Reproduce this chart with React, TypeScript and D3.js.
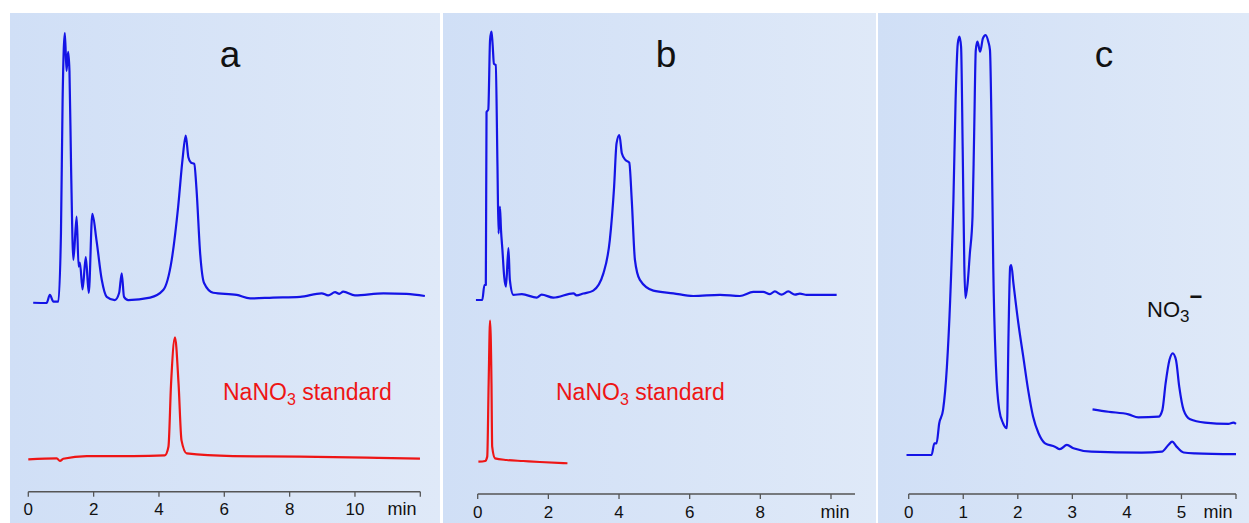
import React from "react";
import * as d3 from "d3";

// panel a, sample (blue) and NaNO3 standard (red)
const aBlueT = [0.15, 0.56, 0.66, 0.77, 0.92, 1.0, 1.05, 1.12, 1.17, 1.22, 1.26, 1.31, 1.38, 1.48, 1.54, 1.58, 1.66, 1.76, 1.85, 1.96, 2.09, 2.25, 2.4, 2.65, 2.78, 2.86, 2.93, 3.06, 3.73, 4.13, 4.39, 4.59, 4.72, 4.82, 4.9, 4.98, 5.08, 5.15, 5.26, 5.38, 5.66, 6.38, 6.79, 7.49, 8.32, 8.98, 9.18, 9.39, 9.52, 9.64, 10.0, 10.87, 11.58, 12.14];
const aBlueV = [0.1, 0, 3, 0.5, 0.5, 26, 75, 100, 86, 93, 86, 50, 16, 32, 13.5, 15, 5, 17, 3.7, 33, 23, 8.5, 2.3, 1.1, 3.7, 11, 2.3, 1.1, 2, 4.8, 16, 36, 53, 62, 54, 52, 51.5, 42, 18.5, 7.4, 3.8, 3, 1.7, 2, 2.3, 3.6, 2.8, 4, 3.4, 4.2, 2.8, 3.6, 3.4, 2.6];
const aRedT = [0, 0.87, 0.97, 1.07, 1.79, 3.21, 4.18, 4.29, 4.37, 4.49, 4.6, 4.69, 4.85, 6.27, 8.32, 10.36, 11.99];
const aRedV = [0.5, 1.4, -0.8, 1, 3.2, 3.2, 3.8, 10.8, 62, 100, 62, 16, 5.4, 3.2, 2.7, 1.9, 1.1];

// panel b
const bBlueT = [-0.05, 0.13, 0.19, 0.23, 0.25, 0.3, 0.35, 0.39, 0.42, 0.46, 0.51, 0.56, 0.59, 0.63, 0.66, 0.7, 0.75, 0.8, 0.87, 0.91, 1.01, 1.25, 1.67, 1.81, 2.14, 2.71, 2.8, 2.99, 3.27, 3.56, 3.74, 3.86, 3.93, 4.01, 4.08, 4.18, 4.29, 4.36, 4.45, 4.59, 4.97, 5.54, 6.1, 6.86, 7.42, 7.8, 8.08, 8.27, 8.41, 8.6, 8.79, 8.98, 9.12, 9.31, 10.16];
const bBlueV = [0, 0, 5.6, 5.6, 70, 71, 97, 100, 95.7, 88, 87.6, 49.7, 24.8, 34.8, 26, 18.6, 8.7, 5, 19.3, 7.5, 1.9, 2.2, 0.9, 2, 0.9, 2.5, 1.7, 2.4, 3.5, 10, 22.4, 42, 58.4, 61.5, 54.7, 52.2, 51.2, 37.3, 15, 7.5, 3.5, 2.5, 1.5, 1.9, 1.5, 3, 3, 2.2, 3.2, 2, 3.2, 2, 2.4, 1.9, 1.9];
const bRedT = [0.02, 0.21, 0.27, 0.31, 0.35, 0.39, 0.41, 0.49, 0.82, 1.29, 1.76, 2.54];
const bRedV = [0.2, 0.7, 3.8, 55.7, 100, 55.7, 10.8, 2.6, 1.4, 0.7, 0, -0.9];

// panel c, full trace and enlarged nitrate region
const cMainT = [-0.04, 0.42, 0.47, 0.51, 0.56, 0.63, 0.7, 0.76, 0.82, 0.86, 0.9, 0.93, 0.96, 0.99, 1.02, 1.04, 1.08, 1.12, 1.17, 1.2, 1.23, 1.26, 1.31, 1.36, 1.41, 1.46, 1.49, 1.52, 1.55, 1.6, 1.66, 1.73, 1.8, 1.83, 1.86, 1.88, 1.92, 2.01, 2.1, 2.19, 2.28, 2.38, 2.5, 2.68, 2.77, 2.9, 3.02, 3.35, 4.27, 4.64, 4.76, 4.83, 4.91, 5.04, 5.25, 6.0];
const cMainV = [0, 0, 2.8, 2.8, 7.6, 10.8, 21, 37, 61, 85, 98.4, 100, 97.6, 73, 45, 37.5, 41, 48, 57, 77, 96.8, 98.8, 96.4, 99.6, 100.4, 98.8, 96.8, 77, 45, 21, 10.8, 7.6, 6.4, 29, 45, 45.4, 41, 31.5, 23.5, 15.5, 9.2, 5.2, 2.8, 2, 1.4, 2.4, 1.6, 0.8, 0.55, 0.8, 2.4, 3.2, 2, 0.6, 0.4, 0.2];
const cZoomT = [3.37, 3.66, 4.03, 4.21, 4.58, 4.65, 4.71, 4.78, 4.84, 4.9, 4.96, 5.04, 5.16, 5.43, 5.86, 5.95, 6.0];
const cZoomV = [25, 21.8, 18.3, 14.3, 15.1, 24, 60, 91, 100, 91, 55, 24, 11.6, 7.1, 5.4, 7.1, 5.4];

const aTicks = [0, 2, 4, 6, 8, 10, 12];
const aTickLabels = ["0", "2", "4", "6", "8", "10", ""];
const bTicks = [0, 2, 4, 6, 8, 10];
const bTickLabels = ["0", "2", "4", "6", "8", ""];
const cTicks = [0, 1, 2, 3, 4, 5, 6];
const cTickLabels = ["0", "1", "2", "3", "4", "5", ""];

const BLUE = "#1414e6";
const RED = "#ee1515";
const FONT = "'Liberation Sans', Arial, sans-serif";

const zip = (t: number[], v: number[]) => t.map((d, i) => [d, v[i]] as [number, number]);

const trace = (x: d3.ScaleLinear<number, number>, y: d3.ScaleLinear<number, number>) =>
  d3.line<[number, number]>()
    .x(d => x(d[0]))
    .y(d => y(d[1]))
    .curve(d3.curveMonotoneX);

const Axis = ({ x, y, ticks, labels, end, labelY, minX }: any) => (
  <g>
    <line x1={x.range()[0]} x2={end} y1={y} y2={y} stroke="#555" strokeWidth={1.5} />
    {ticks.map((t: number, i: number) => (
      <g key={t}>
        <line x1={x(t)} x2={x(t)} y1={y} y2={y + 5} stroke="#555" strokeWidth={1.3} />
        <text x={x(t)} y={labelY} textAnchor="middle" fontSize={17} fill="#111">{labels[i]}</text>
      </g>
    ))}
    <text x={minX} y={labelY} textAnchor="middle" fontSize={18} fill="#111">min</text>
  </g>
);

const Standard = ({ x, y }: { x: number; y: number }) => (
  <text x={x} y={y} fontSize={23} fill={RED}>
    NaNO<tspan dy={5} fontSize={16}>3</tspan><tspan dy={-5}> standard</tspan>
  </text>
);

export default function App() {
  const xA = d3.scaleLinear().domain([0, 12]).range([28.3, 420.3]);
  const xB = d3.scaleLinear().domain([0, 10]).range([477.7, 831]);
  const xC = d3.scaleLinear().domain([0, 6]).range([908.7, 1236]);

  const yABlue = d3.scaleLinear().domain([0, 100]).range([303, 33]);
  const yARed = d3.scaleLinear().domain([0, 100]).range([460, 337.3]);
  const yBBlue = d3.scaleLinear().domain([0, 100]).range([300, 31.7]);
  const yBRed = d3.scaleLinear().domain([0, 100]).range([462, 320.7]);
  const yCMain = d3.scaleLinear().domain([0, 100]).range([455, 36.7]);
  const yCZoom = d3.scaleLinear().domain([0, 100]).range([428, 353.3]);

  const panels = [
    { id: "a", x0: 10, x1: 440, label: 230 },
    { id: "b", x0: 443, x1: 876, label: 666 },
    { id: "c", x0: 878, x1: 1249, label: 1104 },
  ];

  return (
    <svg width={1249} height={523} style={{ position: "absolute", left: 0, top: 0, fontFamily: FONT }}>
      <defs>
        <linearGradient id="bg" x1="0" x2="1" y1="0" y2="0">
          <stop offset="0" stopColor="#d0dff6" />
          <stop offset="1" stopColor="#dfe9f8" />
        </linearGradient>
      </defs>
      <rect width={1249} height={523} fill="#fff" />
      {panels.map(p => (
        <g key={p.id}>
          <rect x={p.x0} y={13} width={p.x1 - p.x0} height={510} fill="url(#bg)" />
          <text x={p.label} y={67} textAnchor="middle" fontSize={37} fill="#111">{p.id}</text>
        </g>
      ))}

      <path d={trace(xA, yABlue)(zip(aBlueT, aBlueV)) || ""} fill="none" stroke={BLUE} strokeWidth={2.2} strokeLinejoin="round" />
      <path d={trace(xA, yARed)(zip(aRedT, aRedV)) || ""} fill="none" stroke={RED} strokeWidth={2.2} strokeLinejoin="round" />
      <Standard x={223} y={400} />
      <Axis x={xA} y={491.7} ticks={aTicks} labels={aTickLabels} end={420.3} labelY={515} minX={402} />

      <path d={trace(xB, yBBlue)(zip(bBlueT, bBlueV)) || ""} fill="none" stroke={BLUE} strokeWidth={2.2} strokeLinejoin="round" />
      <path d={trace(xB, yBRed)(zip(bRedT, bRedV)) || ""} fill="none" stroke={RED} strokeWidth={2.2} strokeLinejoin="round" />
      <Standard x={556} y={400} />
      <Axis x={xB} y={494} ticks={bTicks} labels={bTickLabels} end={855} labelY={518} minX={835} />

      <path d={trace(xC, yCMain)(zip(cMainT, cMainV)) || ""} fill="none" stroke={BLUE} strokeWidth={2.2} strokeLinejoin="round" />
      <path d={trace(xC, yCZoom)(zip(cZoomT, cZoomV)) || ""} fill="none" stroke={BLUE} strokeWidth={2.2} strokeLinejoin="round" />
      <text x={1147} y={317} fontSize={22} fill="#111">
        NO<tspan dy={5} fontSize={17}>3</tspan><tspan dy={-18} fontSize={22} fontWeight="bold">−</tspan>
      </text>
      <Axis x={xC} y={494} ticks={cTicks} labels={cTickLabels} end={1236} labelY={518} minX={1218} />
    </svg>
  );
}
